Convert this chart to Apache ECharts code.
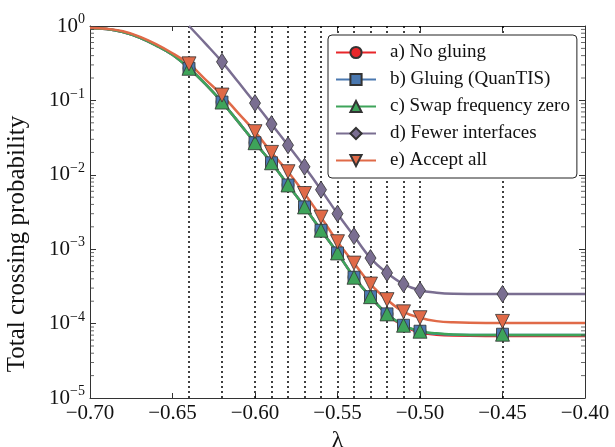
<!DOCTYPE html>
<html>
<head>
<meta charset="utf-8">
<script src="https://cdn.jsdelivr.net/npm/echarts@6/dist/echarts.min.js"></script>
<style>
  html, body { margin: 0; padding: 0; background: #fff; }
  #chart { width: 615px; height: 447px; }
</style>
</head>
<body>
<div id="chart"></div>
<script>
// interface positions (dotted lines and marker positions)
const interfaces = [-0.64, -0.62, -0.60, -0.59, -0.58, -0.57, -0.56, -0.55, -0.54, -0.53, -0.52, -0.51, -0.50, -0.45]

// measured crossing probabilities at each interface
const noGluing = [0.27, 0.095, 0.027, 0.0145, 0.0073, 0.0037, 0.0018, 0.00089, 0.00042, 0.00023, 0.000135, 0.000095, 0.000079, 0.000072]
const gluing = [0.27, 0.095, 0.027, 0.0145, 0.0073, 0.0037, 0.0018, 0.00089, 0.00042, 0.00023, 0.000135, 0.000095, 0.000079, 0.000072]
const swapZero = [0.27, 0.095, 0.027, 0.0145, 0.0073, 0.0037, 0.0018, 0.00089, 0.00042, 0.00023, 0.000135, 0.000095, 0.000079, 0.000072]
const fewer = [null, 0.33, 0.092, 0.048, 0.025, 0.0128, 0.0063, 0.003, 0.0015, 0.00076, 0.00048, 0.00034, 0.00028, 0.00025]
const acceptAll = [0.31, 0.118, 0.038, 0.020, 0.011, 0.0056, 0.0027, 0.00126, 0.00065, 0.00034, 0.00021, 0.000144, 0.00012, 0.000107]

// fitted curves
const curveX = [-0.70, -0.69, -0.68, -0.67, -0.66, -0.65, -0.64, -0.63, -0.62, -0.61, -0.60, -0.59, -0.58, -0.57, -0.56, -0.55, -0.54, -0.53, -0.52, -0.51, -0.50, -0.49, -0.48, -0.46, -0.40]
const curveA = [0.93, 0.91, 0.83, 0.70, 0.55, 0.41, 0.27, 0.165, 0.095, 0.051, 0.027, 0.0145, 0.0073, 0.0037, 0.0018, 0.00089, 0.00042, 0.00023, 0.000133, 0.000093, 0.000076, 0.000071, 0.000069, 0.000068, 0.000068]
const curveB = [0.93, 0.91, 0.83, 0.70, 0.55, 0.41, 0.27, 0.165, 0.095, 0.051, 0.027, 0.0145, 0.0073, 0.0037, 0.0018, 0.00089, 0.00042, 0.00023, 0.000135, 0.000095, 0.000078, 0.000073, 0.000071, 0.00007, 0.00007]
const curveC = [0.93, 0.91, 0.83, 0.70, 0.55, 0.41, 0.27, 0.165, 0.095, 0.051, 0.027, 0.0145, 0.0073, 0.0037, 0.0018, 0.00089, 0.00042, 0.00023, 0.000135, 0.000095, 0.000079, 0.000074, 0.0000715, 0.00007, 0.00007]
const curveD = [null, null, null, null, null, null, 1.0, 0.58, 0.33, 0.175, 0.092, 0.048, 0.025, 0.0128, 0.0063, 0.003, 0.0015, 0.00076, 0.00048, 0.00034, 0.00028, 0.00026, 0.000252, 0.00025, 0.00025]
const curveE = [0.94, 0.92, 0.85, 0.72, 0.57, 0.43, 0.31, 0.19, 0.118, 0.067, 0.038, 0.020, 0.011, 0.0056, 0.0027, 0.00126, 0.00065, 0.00034, 0.00021, 0.000144, 0.00012, 0.000108, 0.000104, 0.000102, 0.000102]

const xTicks = [-0.70, -0.65, -0.60, -0.55, -0.50, -0.45, -0.40]
const yDecades = [1e-5, 1e-4, 1e-3, 1e-2, 1e-1]
const minorMantissas = [2, 3, 4, 5, 6, 7, 8, 9]

const FONT = '"Liberation Serif", "DejaVu Serif", serif'

const methods = [
  { name: 'a) No gluing', color: '#e8262a', symbol: 'circle', size: 12, pts: noGluing, curve: curveA },
  { name: 'b) Gluing (QuanTIS)', color: '#4a78b0', symbol: 'rect', size: 12, pts: gluing, curve: curveB },
  { name: 'c) Swap frequency zero', color: '#3ea45a', symbol: 'triangle', size: 14, pts: swapZero, curve: curveC },
  { name: 'd) Fewer interfaces', color: '#7a6e91', symbol: 'diamond', size: [11, 17], pts: fewer, curve: curveD },
  { name: 'e) Accept all', color: '#e06a48', symbol: 'triangle', rotate: 180, size: 14, pts: acceptAll, curve: curveE }
]

const chart = echarts.init(document.getElementById('chart'))

const minus = v => v.toFixed(2).replace('-', '\u2212')

// minor ticks of the log axis (2..9 x each decade)
const minorVals = []
yDecades.forEach(d => minorMantissas.forEach(m => minorVals.push(d * m)))

const series = [{
  type: 'line',
  data: [],
  z: 1,
  silent: true,
  markLine: {
    z: 1,
    symbol: 'none',
    silent: true,
    label: { show: false },
    lineStyle: { color: '#000', type: [2, 3], width: 1.5 },
    data: interfaces.map(v => ({ xAxis: v }))
  }
}, {
  type: 'scatter',
  silent: true,
  symbol: 'rect',
  symbolSize: [4, 1],
  symbolOffset: [2, 0],
  itemStyle: { color: '#444' },
  z: 5,
  data: minorVals.map(v => [-0.70, v])
}, {
  type: 'scatter',
  silent: true,
  symbol: 'rect',
  symbolSize: [4, 1],
  symbolOffset: [-2, 0],
  itemStyle: { color: '#444' },
  z: 5,
  data: minorVals.map(v => [-0.40, v])
}]

methods.forEach(m => {
  series.push({
    name: m.name,
    type: 'line',
    smooth: 0.4,
    symbol: m.symbol,
    symbolSize: m.size,
    symbolRotate: m.rotate || 0,
    showSymbol: false,
    connectNulls: false,
    z: 2,
    lineStyle: { color: m.color, width: 2.5 },
    itemStyle: { color: m.color, borderColor: '#333', borderWidth: 0.8 },
    data: curveX.map((x, i) => [x, m.curve[i]])
  })
  series.push({
    name: m.name,
    type: 'scatter',
    symbol: m.symbol,
    symbolSize: m.size,
    symbolRotate: m.rotate || 0,
    z: 3,
    itemStyle: { color: m.color, borderColor: '#333', borderWidth: 0.8, opacity: 1 },
    data: interfaces.map((x, i) => [x, m.pts[i]]).filter(p => p[1] != null)
  })
})

chart.setOption({
  animation: false,
  backgroundColor: '#fff',
  grid: { left: 90, right: 30, top: 26, bottom: 49, outerBoundsMode: 'none', containLabel: false },
  legend: {
    orient: 'vertical',
    left: 328,
    top: 35,
    itemWidth: 40,
    itemHeight: 14,
    itemGap: 8,
    padding: [8, 7, 8, 7],
    borderColor: '#222',
    borderWidth: 1,
    borderRadius: 4,
    backgroundColor: '#fff',
    textStyle: { fontFamily: FONT, fontSize: 19, color: '#111', padding: [0, 0, 0, 9] },
    data: methods.map(m => m.name)
  },
  xAxis: [{
    type: 'value',
    min: -0.70,
    max: -0.40,
    interval: 0.05,
    name: 'λ',
    nameLocation: 'middle',
    nameGap: 24,
    nameTextStyle: { fontFamily: FONT, fontSize: 24, color: '#111' },
    axisLine: { lineStyle: { color: '#333', width: 1 } },
    axisTick: { inside: true, length: 5, lineStyle: { color: '#333' } },
    axisLabel: {
      fontFamily: FONT, fontSize: 21, color: '#111', margin: 5,
      formatter: v => xTicks.some(t => Math.abs(t - v) < 1e-6) ? minus(v) : ''
    },
    splitLine: { show: false }
  }, {
    type: 'value',
    position: 'top',
    min: -0.70,
    max: -0.40,
    interval: 0.05,
    axisLine: { lineStyle: { color: '#333', width: 1 } },
    axisTick: { inside: true, length: 5, lineStyle: { color: '#333' } },
    axisLabel: { show: false },
    splitLine: { show: false }
  }],
  yAxis: [{
    type: 'log',
    logBase: 10,
    min: 1e-5,
    max: 1,
    name: 'Total crossing probability',
    nameLocation: 'middle',
    nameGap: 60,
    nameTextStyle: { fontFamily: FONT, fontSize: 25, color: '#111', padding: [0, 64, 0, 0] },
    axisLine: { lineStyle: { color: '#333', width: 1 } },
    axisTick: { inside: true, length: 6, lineStyle: { color: '#333' } },
    axisLabel: {
      margin: 5,
      formatter: v => {
        const e = Math.round(Math.log10(v))
        return '{b|10}{s|' + (e === 0 ? '0' : '\u2212' + Math.abs(e)) + '}'
      },
      rich: {
        b: { fontFamily: FONT, fontSize: 21, color: '#111' },
        s: { fontFamily: FONT, fontSize: 14, color: '#111', padding: [0, 0, 13, 0] }
      }
    },
    splitLine: { show: false }
  }, {
    type: 'log',
    logBase: 10,
    min: 1e-5,
    max: 1,
    position: 'right',
    axisLine: { lineStyle: { color: '#333', width: 1 } },
    axisTick: { inside: true, length: 6, lineStyle: { color: '#333' } },
    axisLabel: { show: false },
    splitLine: { show: false }
  }],
  series: series
})
</script>
</body>
</html>
